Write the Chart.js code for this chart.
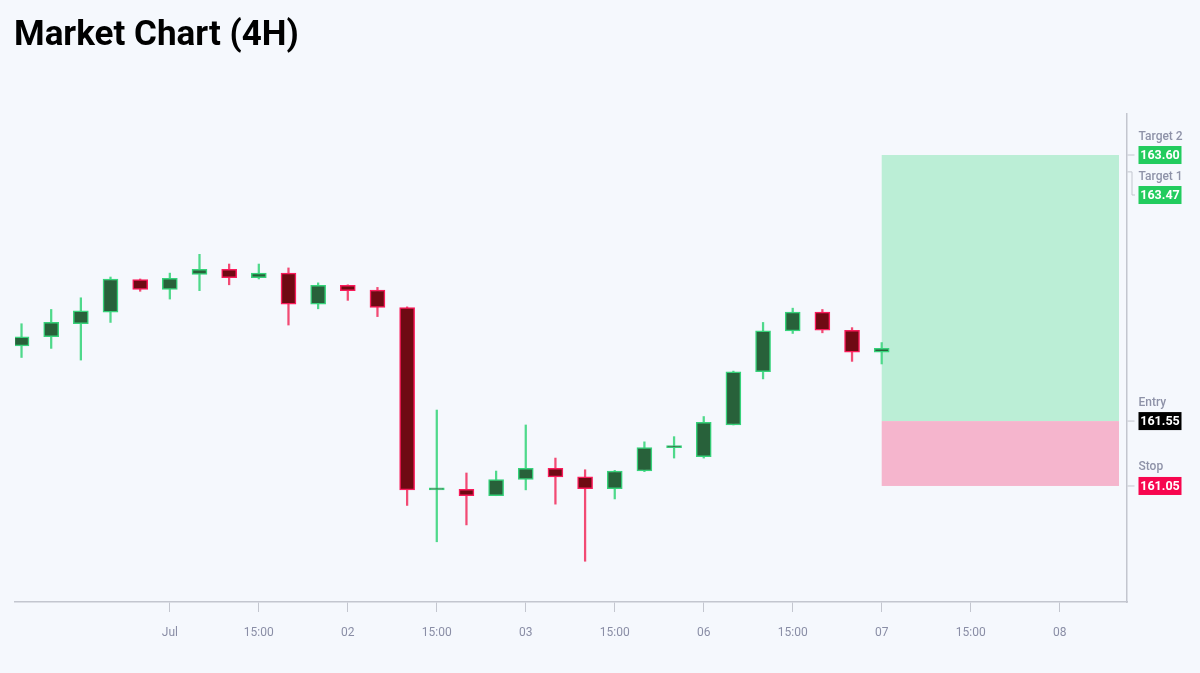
<!DOCTYPE html>
<html>
<head>
<meta charset="utf-8">
<script src="https://cdn.jsdelivr.net/npm/chart.js@4.4.1/dist/chart.umd.min.js"></script>
<style>
  html, body { margin: 0; padding: 0; background: #f5f8fd; }
  #wrap { position: relative; width: 1200px; height: 673px; }
  #title { position: absolute; left: 14px; top: 16px; margin: 0; font-family: Roboto, "Noto Sans", sans-serif; font-weight: 700; font-size: 35px; line-height: 35px; color: #000; }
  canvas { position: absolute; left: 0; top: 0; }
</style>
</head>
<body>
<div id="wrap">
  <canvas id="c" width="1200" height="673" style="width:1200px;height:673px"></canvas>
  <h1 id="title">Market Chart (4H)</h1>
</div>
<script>
// ---- data ----
const openP  = [162.13,162.20,162.30,162.39,162.64,162.565,162.68,162.72,162.655,162.69,162.45,162.595,162.56,162.425,161.02,161.025,160.975,161.10,161.185,161.12,161.03,161.165,161.345,161.275,161.52,161.93,162.245,162.39,162.25,162.08];
const highP  = [162.30,162.41,162.50,162.66,162.645,162.69,162.835,162.76,162.76,162.73,162.615,162.60,162.58,162.43,161.635,161.15,161.165,161.52,161.265,161.175,161.17,161.39,161.43,161.585,161.935,162.31,162.42,162.41,162.27,162.155];
const lowP   = [162.04,162.11,162.02,162.31,162.55,162.49,162.555,162.60,162.645,162.29,162.415,162.48,162.355,160.90,160.62,160.75,160.975,161.02,160.91,160.47,160.95,161.16,161.265,161.265,161.52,161.875,162.225,162.23,162.01,161.99];
const closeP = [162.20,162.31,162.40,162.645,162.565,162.65,162.72,162.655,162.69,162.45,162.595,162.555,162.425,161.02,161.02,160.975,161.10,161.185,161.12,161.03,161.165,161.345,161.35,161.54,161.93,162.245,162.39,162.25,162.08,162.11];

const tickIndex  = [5, 8, 11, 14, 17, 20, 23, 26, 29, 32, 35];
const tickLabels = ['Jul','15:00','02','15:00','03','15:00','06','15:00','07','15:00','08'];

const levelNames  = ['Target 2','Target 1','Entry','Stop'];
const levelValues = [163.60, 163.47, 161.55, 161.05];
const levelKinds  = ['target','target','entry','stop'];

const zoneStart = 29, zoneEnd = 37;
const targetTop = 163.60, entryLevel = 161.55, stopLevel = 161.05;

// ---- styles ----
const C = {
  upFill: '#28613a', upBorder: '#36d27a', upWick: '#4fd98b',
  dnFill: '#6f0a13', dnBorder: '#fa1b5b', dnWick: '#f24a74',
  axis: '#c3c6cf', tickText: '#8a8ea6', levelText: '#8e92a8',
  target: '#22cc5e', entry: '#000000', stop: '#f7064f',
  zoneGreen: '#bbeed6', zonePink: '#f5b5cd'
};

const idx = openP.map((_, i) => i);
const isUp = i => closeP[i] >= openP[i];

const zonePlugin = {
  id: 'zones',
  beforeDatasetsDraw(chart) {
    const {ctx, scales: {x, y}} = chart;
    const x0 = x.getPixelForValue(zoneStart), x1 = x.getPixelForValue(zoneEnd);
    const yT = y.getPixelForValue(targetTop), yE = y.getPixelForValue(entryLevel), yS = y.getPixelForValue(stopLevel);
    ctx.save();
    ctx.fillStyle = C.zoneGreen;
    ctx.fillRect(x0, yT, x1 - x0, yE - yT);
    ctx.fillStyle = C.zonePink;
    ctx.fillRect(x0, yE, x1 - x0, yS - yE);
    ctx.restore();
  }
};

const levelPlugin = {
  id: 'levels',
  afterDraw(chart) {
    const {ctx, scales: {y}, chartArea} = chart;
    const ax = chartArea.right + 0.5;
    const boxX = ax + 11, boxW = 43, boxH = 18;
    const order = levelValues.map((v, i) => ({i, py: y.getPixelForValue(v)})).sort((a, b) => a.py - b.py);
    let prev = -1e9;
    ctx.save();
    ctx.strokeStyle = C.axis;
    ctx.lineWidth = 1;
    order.forEach(o => {
      const cy = Math.max(o.py, prev + 40);
      prev = cy;
      ctx.beginPath();
      if (Math.abs(cy - o.py) < 0.5) {
        ctx.moveTo(ax, o.py); ctx.lineTo(ax + 7, o.py);
      } else {
        ctx.moveTo(ax, o.py); ctx.lineTo(ax + 4.5, o.py); ctx.lineTo(ax + 4.5, cy); ctx.lineTo(ax + 7.5, cy);
      }
      ctx.stroke();
      const kind = levelKinds[o.i];
      ctx.fillStyle = kind === 'target' ? C.target : (kind === 'entry' ? C.entry : C.stop);
      ctx.fillRect(boxX, cy - boxH / 2, boxW, boxH);
      ctx.fillStyle = '#ffffff';
      ctx.font = '700 12.5px Roboto';
      ctx.textAlign = 'center';
      ctx.textBaseline = 'middle';
      ctx.fillText(levelValues[o.i].toFixed(2), boxX + boxW / 2, cy + 0.5);
      ctx.fillStyle = C.levelText;
      ctx.font = '500 12px Roboto';
      ctx.textAlign = 'left';
      ctx.fillText(levelNames[o.i], boxX, cy - 18.5);
    });
    ctx.restore();
  }
};

new Chart(document.getElementById('c'), {
  type: 'bar',
  data: {
    datasets: [
      {
        label: 'body',
        data: idx.map(i => ({x: i, y: [openP[i], closeP[i]]})),
        backgroundColor: ctx => isUp(ctx.dataIndex) ? C.upFill : C.dnFill,
        borderColor: ctx => isUp(ctx.dataIndex) ? C.upBorder : C.dnBorder,
        borderWidth: 1.5,
        borderSkipped: false,
        barThickness: 15,
        minBarLength: 2,
        grouped: false,
        order: 0
      },
      {
        label: 'wick',
        data: idx.map(i => ({x: i, y: [lowP[i], highP[i]]})),
        backgroundColor: ctx => isUp(ctx.dataIndex) ? C.upWick : C.dnWick,
        borderWidth: 0,
        barThickness: 1.6,
        grouped: false,
        order: 1
      }
    ]
  },
  options: {
    responsive: false,
    animation: false,
    layout: { padding: { top: 114, left: 15, right: 0, bottom: 0 } },
    plugins: { legend: { display: false }, tooltip: { enabled: false }, title: { display: false } },
    scales: {
      x: {
        type: 'linear',
        min: -0.22,
        max: 37.27,
        offset: false,
        afterBuildTicks: s => { s.ticks = tickIndex.map(v => ({value: v})); },
        afterFit: s => { s.height = 71; },
        ticks: {
          autoSkip: false,
          maxRotation: 0,
          padding: 14,
          color: C.tickText,
          font: { family: 'Roboto', size: 12 },
          callback: v => { const k = tickIndex.indexOf(v); return k >= 0 ? tickLabels[k] : ''; }
        },
        grid: { offset: false, drawOnChartArea: false, drawTicks: true, tickLength: 10, color: C.axis, lineWidth: 1 },
        border: { display: true, color: C.axis, width: 1.5 }
      },
      y: {
        type: 'linear',
        position: 'right',
        min: 160.156,
        max: 163.916,
        afterFit: s => { s.width = 73; },
        ticks: { display: false },
        grid: { display: false },
        border: { display: true, color: C.axis, width: 1.5 }
      }
    }
  },
  plugins: [zonePlugin, levelPlugin]
});
</script>
</body>
</html>
